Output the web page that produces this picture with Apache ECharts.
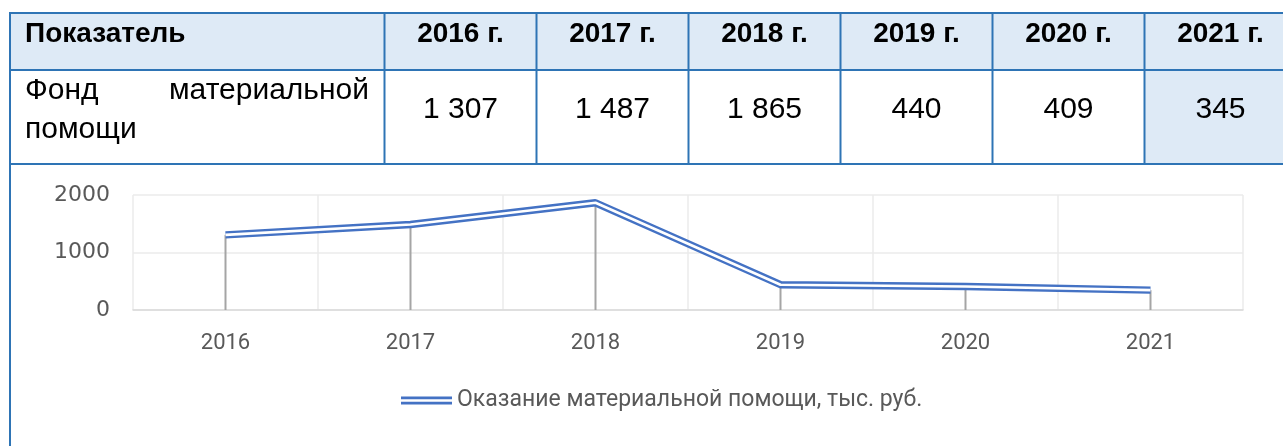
<!DOCTYPE html>
<html>
<head>
<meta charset="utf-8">
<script src="https://cdn.jsdelivr.net/npm/echarts@6/dist/echarts.min.js"></script>
<style>
  html, body { margin: 0; padding: 0; background: #fff; }
  #main { width: 1283px; height: 446px; }
</style>
</head>
<body>
<div id="main"></div>
<script>
// данные
var years = ['2016', '2017', '2018', '2019', '2020', '2021'];
var fundValues = [1307, 1487, 1865, 440, 409, 345];
var yTicks = [0, 1000, 2000];
var rowTitle = ['Фонд', 'материальной', 'помощи'];
var headTitle = 'Показатель';
var seriesName = 'Оказание материальной помощи, тыс. руб.';

var BLUE = '#2E74B5';
var FILL = '#DEEAF6';

// 1 307 -> с пробелом тысяч
function fmt(v) {
	var s = String(v);
	return s.length > 3 ? s.slice(0, s.length - 3) + ' ' + s.slice(-3) : s;
}

var chart = echarts.init(document.getElementById('main'));

// таблица сверху
var colX = [384.5];
for (var i = 0; i < years.length; i++) colX.push(384.5 + 152 * (i + 1));

var g = [];
g.push({ type: 'rect', shape: { x: 10, y: 13, width: 1283, height: 57 }, style: { fill: FILL }, z: 0 });
g.push({ type: 'rect', shape: { x: colX[5], y: 70, width: 160, height: 94 }, style: { fill: FILL }, z: 0 });
[13, 70, 164].forEach(function(y) {
	g.push({ type: 'line', shape: { x1: 9, y1: y, x2: 1283, y2: y }, style: { stroke: BLUE, lineWidth: 2 }, z: 2 });
});
g.push({ type: 'line', shape: { x1: 10, y1: 12, x2: 10, y2: 446 }, style: { stroke: BLUE, lineWidth: 2 }, z: 2 });
colX.forEach(function(x) {
	g.push({ type: 'line', shape: { x1: x, y1: 13, x2: x, y2: 164 }, style: { stroke: BLUE, lineWidth: 2 }, z: 2 });
});

var headFont = { fontFamily: 'Liberation Sans, Arial, sans-serif', fontWeight: 'bold', fontSize: 28, fill: '#000' };
var cellFont = { fontFamily: 'Liberation Sans, Arial, sans-serif', fontSize: 30, fill: '#000' };

g.push({ type: 'text', x: 25, y: 34, style: Object.assign({ text: headTitle, align: 'left', verticalAlign: 'middle' }, headFont), z: 3 });
g.push({ type: 'text', x: 25, y: 91, style: Object.assign({ text: rowTitle[0], align: 'left', verticalAlign: 'middle' }, cellFont), z: 3 });
g.push({ type: 'text', x: 369, y: 91, style: Object.assign({ text: rowTitle[1], align: 'right', verticalAlign: 'middle' }, cellFont), z: 3 });
g.push({ type: 'text', x: 25, y: 130, style: Object.assign({ text: rowTitle[2], align: 'left', verticalAlign: 'middle' }, cellFont), z: 3 });

years.forEach(function(y, i) {
	var cx = colX[i] + 76;
	g.push({ type: 'text', x: cx, y: 34, style: Object.assign({ text: y + ' г.', align: 'center', verticalAlign: 'middle' }, headFont), z: 3 });
	g.push({ type: 'text', x: cx, y: 110, style: Object.assign({ text: fmt(fundValues[i]), align: 'center', verticalAlign: 'middle' }, cellFont), z: 3 });
});

var option = {
	animation: false,
	graphic: g,
	grid: {
		left: 133,
		right: 40,
		top: 195,
		bottom: 136,
		containLabel: false
	},
	legend: {
		left: 396,
		top: 384,
		data: [{ name: seriesName, icon: 'path://M0,0H50V2.6H0Z M0,5H50V7.6H0Z' }],
		itemWidth: 51,
		itemHeight: 8,
		itemGap: 5,
		textStyle: { color: '#595959', fontSize: 23, fontFamily: 'Roboto, sans-serif' }
	},
	xAxis: {
		type: 'category',
		data: years,
		boundaryGap: true,
		axisLine: { lineStyle: { color: '#D9D9D9', width: 1.5 } },
		axisTick: { show: false },
		axisLabel: { color: '#595959', fontSize: 22, fontFamily: 'Roboto, sans-serif', margin: 22 },
		splitLine: { show: true, lineStyle: { color: '#EBEBEB', width: 1.5 } }
	},
	yAxis: {
		type: 'value',
		min: yTicks[0],
		max: yTicks[yTicks.length - 1],
		interval: 1000,
		axisLine: { show: false },
		axisTick: { show: false },
		axisLabel: {
			color: '#595959', fontSize: 22, fontFamily: 'DejaVu Sans, sans-serif', margin: 23,
			formatter: function(v) { return String(v); }
		},
		splitLine: { lineStyle: { color: '#EBEBEB', width: 1.5 } }
	},
	series: [
		{
			name: 'drop',
			type: 'bar',
			data: fundValues,
			barWidth: 2,
			itemStyle: { color: '#A5A5A5' },
			z: 1
		},
		{
			name: seriesName,
			type: 'line',
			data: fundValues,
			symbol: 'none',
			itemStyle: { color: '#4472C4' },
			lineStyle: { color: '#4472C4', width: 7.4 },
			z: 3
		},
		{
			name: 'inner',
			type: 'line',
			data: fundValues,
			symbol: 'none',
			itemStyle: { color: '#fff' },
			lineStyle: { color: '#fff', width: 2.6 },
			z: 4
		}
	]
};

chart.setOption(option);
</script>
</body>
</html>
